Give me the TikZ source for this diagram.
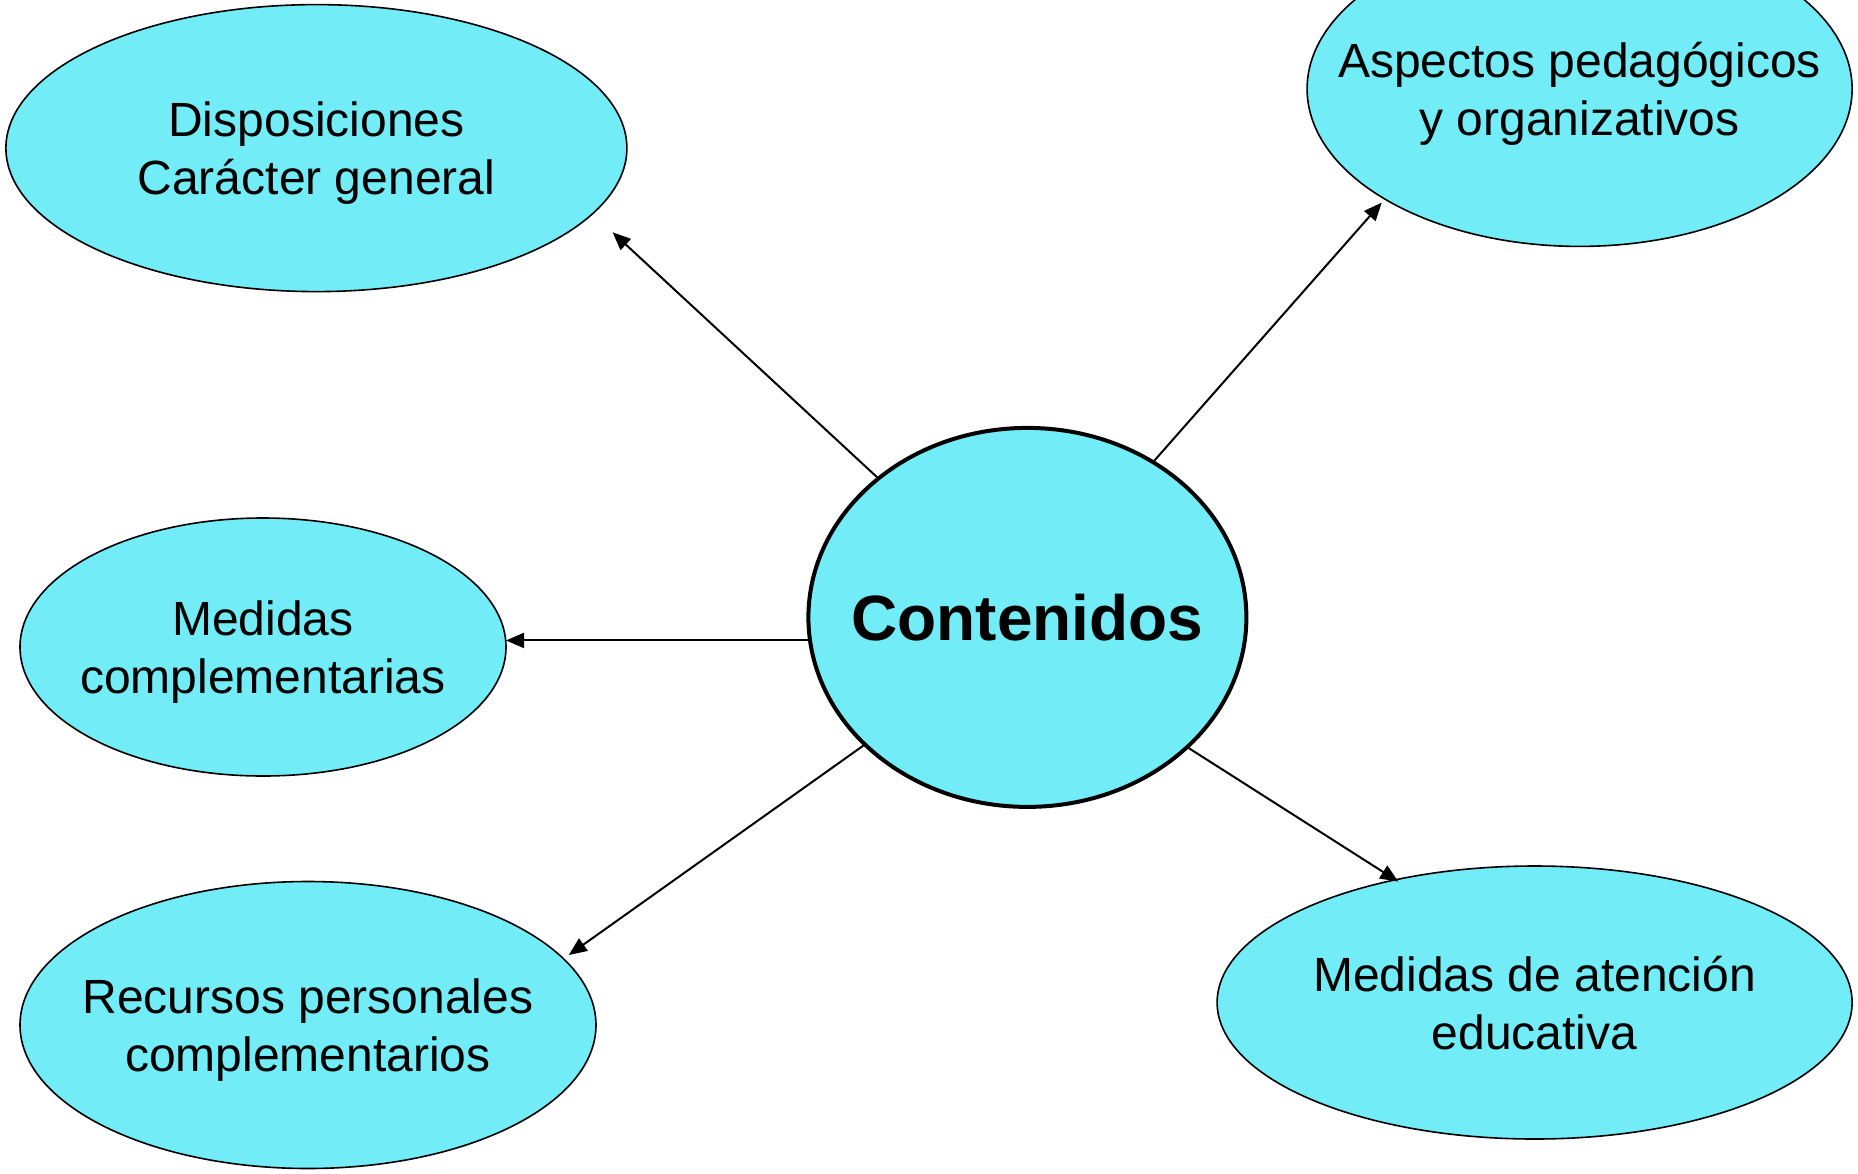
\documentclass[tikz,border=0pt]{standalone}
\usepackage{fontspec}
\setmainfont{Liberation Sans}
\usetikzlibrary{shapes.geometric,arrows.meta}
\definecolor{bubble}{RGB}{114,236,246}
\newcommand{\bubtext}[1]{\makebox[0pt]{\raisebox{-12.5pt}[0pt][0pt]{\setlength{\tabcolsep}{0pt}\begin{tabular}{c}#1\end{tabular}}}}
\tikzset{
  bub/.style={ellipse, draw=black, line width=1.6pt, fill=bubble, inner sep=0pt,
    font=\fontsize{48}{58}\selectfont},
  hub/.style={ellipse, draw=black, line width=4pt, fill=bubble, inner sep=0pt,
    font=\fontsize{64}{72}\selectfont\bfseries},
  link/.style={line width=2pt, -{Triangle[length=18pt,width=15pt]}}
}
\begin{document}
\begin{tikzpicture}[x=1pt,y=-1pt]
\useasboundingbox (0,0) rectangle (1858,1173);
\clip (0,0) rectangle (1858,1173);
\node[hub, minimum width=438pt, minimum height=379pt] (c) at (1027.4,617.4) {\makebox[0pt]{Contenidos}};
\node[bub, minimum width=621pt, minimum height=287pt] (disp) at (316.4,148.1) {\bubtext{Disposiciones\\Carácter general}};
\node[bub, minimum width=545pt, minimum height=315pt] (asp) at (1579.6,88.9) {\bubtext{Aspectos pedagógicos\\y organizativos}};
\node[bub, minimum width=486pt, minimum height=258pt] (mc) at (263,647) {\bubtext{Medidas\\complementarias}};
\node[bub, minimum width=576pt, minimum height=287pt] (rec) at (308,1025) {\bubtext{Recursos personales\\complementarios}};
\node[bub, minimum width=635pt, minimum height=273pt] (mae) at (1534.6,1002.5) {\bubtext{Medidas de atención\\educativa}};
\coordinate (e1) at (612.6,232.3);
\coordinate (e2) at (1381.7,202.6);
\coordinate (e3) at (506,640);
\coordinate (e4) at (568.8,955);
\coordinate (e5) at (1398.3,881.6);
\draw[link] (c.137.5) -- (e1);
\draw[link] (c.51.5) -- (e2);
\draw[link] (c.186) -- (c.186 -| e3);
\draw[link] (c.218.5) -- (e4);
\draw[link] (c.321) -- (e5);
\end{tikzpicture}
\end{document}
